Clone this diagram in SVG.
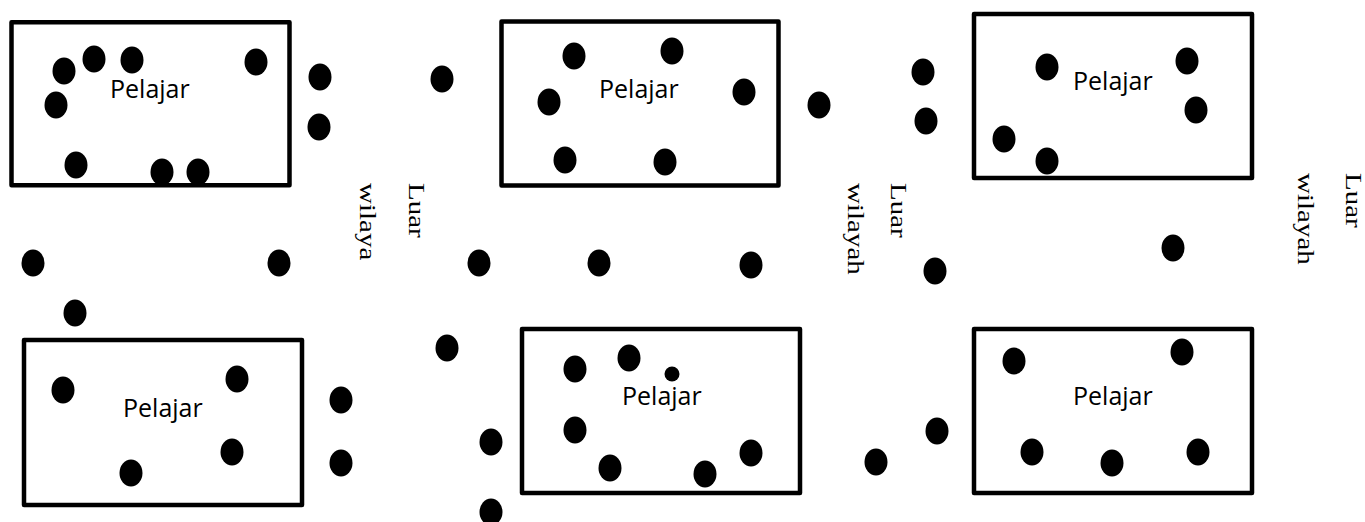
<svg xmlns="http://www.w3.org/2000/svg" width="1365" height="522" viewBox="0 0 1365 522">
<style>
.box{fill:#fff;stroke:#000;stroke-width:4.5;stroke-linejoin:round}
.lbl{font-family:"Open Sans","Noto Sans",sans-serif;font-size:25px;fill:#000}
.vt{font-family:"Liberation Serif","Times New Roman",serif;font-size:29px;fill:#000}
.d{fill:#000}
</style>
<defs>
<ellipse id="dot" cx="0" cy="0" rx="11.5" ry="13.5"/>
</defs>
<rect width="1365" height="522" fill="#fff"/>
<g id="connectors"/>
<g id="kelas1">
<rect class="box" x="11.5" y="22.2" width="278" height="163"/>
<text class="lbl" x="110" y="98">Pelajar</text>
<use href="#dot" x="64" y="71"/><use href="#dot" x="94" y="59"/><use href="#dot" x="132" y="60"/><use href="#dot" x="256" y="62"/>
<use href="#dot" x="56" y="105"/><use href="#dot" x="76" y="165"/><use href="#dot" x="162" y="172"/><use href="#dot" x="198" y="172"/>
</g>
<g id="kelas2">
<rect class="box" x="501.5" y="21.5" width="277" height="164"/>
<text class="lbl" x="599" y="98">Pelajar</text>
<use href="#dot" x="574" y="56"/><use href="#dot" x="672" y="51"/><use href="#dot" x="549" y="102"/><use href="#dot" x="744" y="92"/>
<use href="#dot" x="565" y="160"/><use href="#dot" x="665" y="162"/>
</g>
<g id="kelas3">
<rect class="box" x="974" y="14" width="278" height="164"/>
<text class="lbl" x="1073" y="90">Pelajar</text>
<use href="#dot" x="1047" y="67"/><use href="#dot" x="1187" y="61"/><use href="#dot" x="1196" y="110"/><use href="#dot" x="1004" y="139"/><use href="#dot" x="1047" y="161"/>
</g>
<g id="kelas4">
<rect class="box" x="24" y="340" width="278" height="165"/>
<text class="lbl" x="123" y="417">Pelajar</text>
<use href="#dot" x="63" y="390"/><use href="#dot" x="237" y="379"/><use href="#dot" x="232" y="452"/><use href="#dot" x="131" y="473"/>
</g>
<g id="kelas5">
<rect class="box" x="522" y="329" width="278" height="164"/>
<text class="lbl" x="622" y="405">Pelajar</text>
<use href="#dot" x="575" y="369"/><use href="#dot" x="629" y="358"/><ellipse class="d" cx="672" cy="374" rx="7.5" ry="7.5"/>
<use href="#dot" x="575" y="430"/><use href="#dot" x="610" y="468"/><use href="#dot" x="705" y="474"/><use href="#dot" x="751" y="453"/>
</g>
<g id="kelas6">
<rect class="box" x="974" y="329" width="278" height="164"/>
<text class="lbl" x="1073" y="405">Pelajar</text>
<use href="#dot" x="1014" y="361"/><use href="#dot" x="1182" y="352"/><use href="#dot" x="1032" y="452"/><use href="#dot" x="1112" y="463"/><use href="#dot" x="1198" y="452"/>
</g>
<g id="pelajar-luar">
<use href="#dot" x="320" y="77"/><use href="#dot" x="319" y="127"/><use href="#dot" x="442" y="79"/>
<use href="#dot" x="819" y="105"/><use href="#dot" x="923" y="72"/><use href="#dot" x="926" y="121"/>
<use href="#dot" x="33" y="263"/><use href="#dot" x="279" y="263"/><use href="#dot" x="479" y="263"/><use href="#dot" x="599" y="263"/>
<use href="#dot" x="751" y="265"/><use href="#dot" x="935" y="271"/><use href="#dot" x="1173" y="248"/>
<use href="#dot" x="75" y="313"/><use href="#dot" x="447" y="348"/>
<use href="#dot" x="341" y="400"/><use href="#dot" x="341" y="463"/>
<use href="#dot" x="491" y="442"/><use href="#dot" x="491" y="512"/>
<use href="#dot" x="876" y="462"/><use href="#dot" x="937" y="431"/>
</g>
<g id="luar-wilayah-1">
<text class="vt" transform="translate(409,183) rotate(90) scale(1,0.78)">Luar</text>
<text class="vt" transform="translate(360,183) rotate(90) scale(1,0.78)">wilaya</text>
</g>
<g id="luar-wilayah-2">
<text class="vt" transform="translate(891,183) rotate(90) scale(1,0.78)">Luar</text>
<text class="vt" transform="translate(848,183) rotate(90) scale(1,0.78)">wilayah</text>
</g>
<g id="luar-wilayah-3">
<text class="vt" transform="translate(1346,173) rotate(90) scale(1,0.78)">Luar</text>
<text class="vt" transform="translate(1298,173) rotate(90) scale(1,0.78)">wilayah</text>
</g>
</svg>
